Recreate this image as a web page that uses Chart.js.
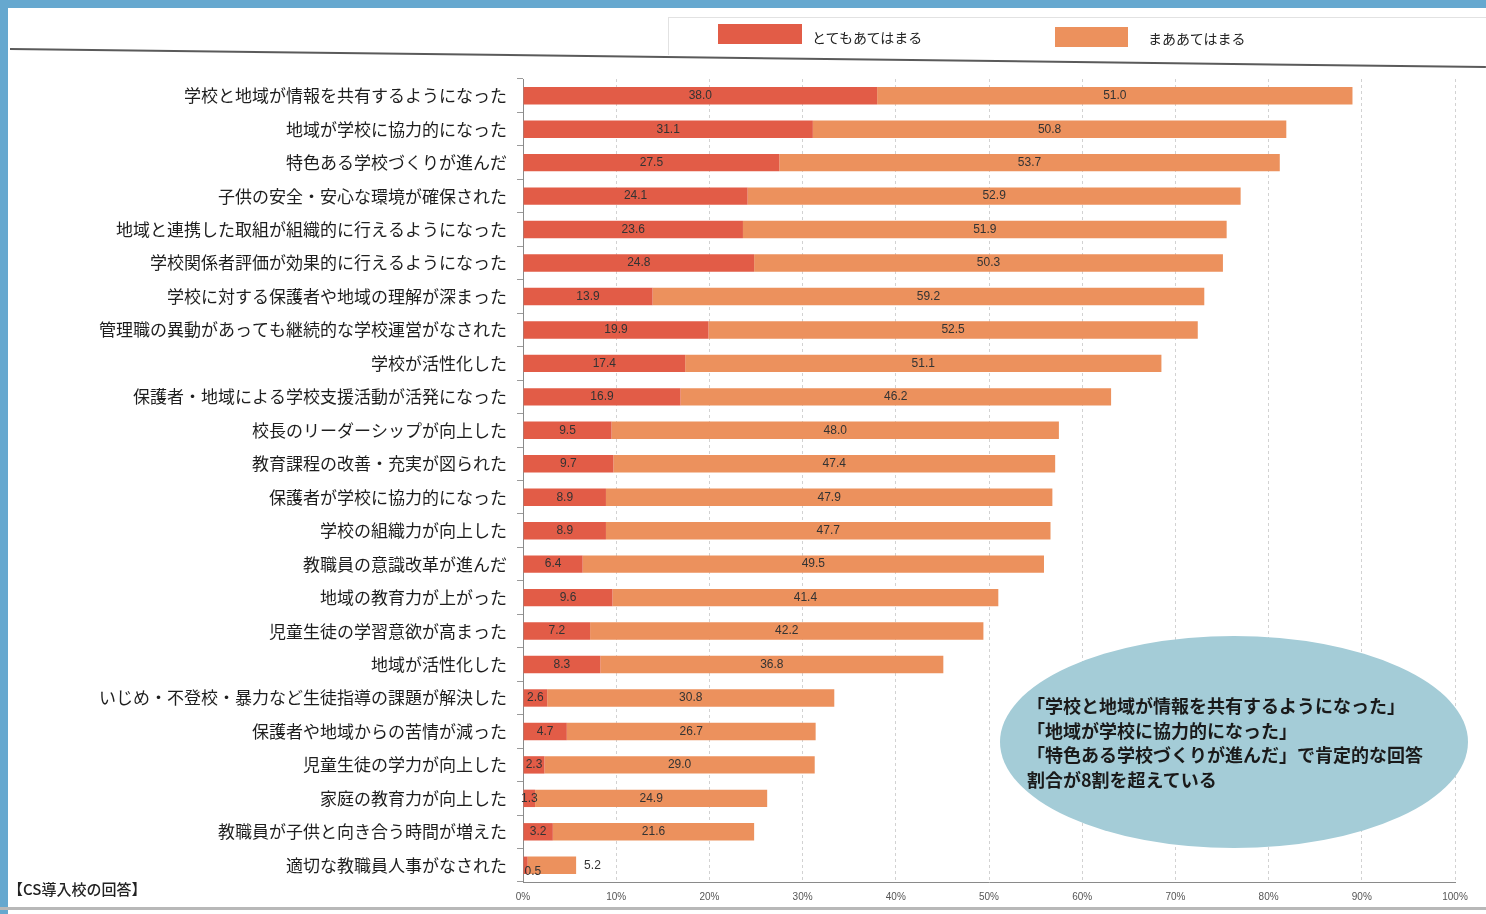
<!DOCTYPE html>
<html>
<head>
<meta charset="utf-8">
<script src="https://cdn.jsdelivr.net/npm/chart.js@4.4.1/dist/chart.umd.min.js"></script>
<style>
  html,body{margin:0;padding:0;}
  body{width:1486px;height:914px;overflow:hidden;background:#fff;position:relative;font-family:"Noto Sans CJK JP","Noto Sans",sans-serif;}
  #frameTop{position:absolute;left:0;top:0;width:1486px;height:8px;background:#66a8cf;}
  #frameLeft{position:absolute;left:0;top:0;width:8px;height:914px;background:#66a8cf;}
  #bottomLine{position:absolute;left:0;top:907px;width:1486px;height:3px;background:#b8b8b8;}
  #legendTop{position:absolute;left:668px;top:17px;width:818px;height:1px;background:#e2e2e2;}
  #legendLeft{position:absolute;left:668px;top:17px;width:1px;height:38px;background:#e2e2e2;}
  #legendBottom{position:absolute;left:10px;top:48px;width:1476px;height:2px;background:#5a5a5a;transform:rotate(0.7deg);transform-origin:0 0;}
  .lgbox{position:absolute;height:20px;}
  .lgtext{position:absolute;font-size:14px;color:#222;line-height:20px;white-space:nowrap;}
  #note{position:absolute;left:8px;top:878px;font-size:15px;color:#222;font-weight:500;line-height:22px;white-space:nowrap;}
  #ellipse{position:absolute;left:1000px;top:636px;width:468px;height:212px;border-radius:50%;background:#a4ccd7;}
  #ellipseText{position:absolute;left:1027px;top:693px;font-size:18px;font-weight:700;color:#1a1a1a;line-height:24.5px;white-space:nowrap;}
  canvas{position:absolute;left:0;top:0;}
</style>
</head>
<body>
<div id="frameTop"></div>
<div id="frameLeft"></div>
<div id="bottomLine"></div>
<div id="legendTop"></div>
<div id="legendLeft"></div>
<div id="legendBottom"></div>
<canvas id="c" width="1486" height="914"></canvas>
<div class="lgbox" id="lg0" style="left:718px;top:24px;width:84px;"></div>
<div class="lgtext" id="lt0" style="left:812px;top:27px;"></div>
<div class="lgbox" id="lg1" style="left:1055px;top:27px;width:73px;"></div>
<div class="lgtext" id="lt1" style="left:1148px;top:28px;"></div>
<div id="note">【CS導入校の回答】</div>
<div id="ellipse"></div>
<div id="ellipseText">「学校と地域が情報を共有するようになった」<br>「地域が学校に協力的になった」<br>「特色ある学校づくりが進んだ」で肯定的な回答<br>割合が8割を超えている</div>
<script>
const categories = [
  "学校と地域が情報を共有するようになった",
  "地域が学校に協力的になった",
  "特色ある学校づくりが進んだ",
  "子供の安全・安心な環境が確保された",
  "地域と連携した取組が組織的に行えるようになった",
  "学校関係者評価が効果的に行えるようになった",
  "学校に対する保護者や地域の理解が深まった",
  "管理職の異動があっても継続的な学校運営がなされた",
  "学校が活性化した",
  "保護者・地域による学校支援活動が活発になった",
  "校長のリーダーシップが向上した",
  "教育課程の改善・充実が図られた",
  "保護者が学校に協力的になった",
  "学校の組織力が向上した",
  "教職員の意識改革が進んだ",
  "地域の教育力が上がった",
  "児童生徒の学習意欲が高まった",
  "地域が活性化した",
  "いじめ・不登校・暴力など生徒指導の課題が解決した",
  "保護者や地域からの苦情が減った",
  "児童生徒の学力が向上した",
  "家庭の教育力が向上した",
  "教職員が子供と向き合う時間が増えた",
  "適切な教職員人事がなされた"
];
const seriesNames = ["とてもあてはまる", "まああてはまる"];
const totemo = [38.0,31.1,27.5,24.1,23.6,24.8,13.9,19.9,17.4,16.9,9.5,9.7,8.9,8.9,6.4,9.6,7.2,8.3,2.6,4.7,2.3,1.3,3.2,0.5];
const maa    = [51.0,50.8,53.7,52.9,51.9,50.3,59.2,52.5,51.1,46.2,48.0,47.4,47.9,47.7,49.5,41.4,42.2,36.8,30.8,26.7,29.0,24.9,21.6,5.2];
const xTicks = [0,10,20,30,40,50,60,70,80,90,100];

const colors = ["#e25c47", "#ec915d"];

document.getElementById('lg0').style.background = colors[0];
document.getElementById('lg1').style.background = colors[1];
document.getElementById('lt0').textContent = seriesNames[0];
document.getElementById('lt1').textContent = seriesNames[1];

const valueLabels = {
  id: 'valueLabels',
  afterDatasetsDraw(chart) {
    const ctx = chart.ctx;
    ctx.save();
    ctx.font = '12px "Liberation Sans", Arial, sans-serif';
    ctx.fillStyle = '#333';
    ctx.textBaseline = 'middle';
    const m0 = chart.getDatasetMeta(0), m1 = chart.getDatasetMeta(1);
    m0.data.forEach((b0, i) => {
      const b1 = m1.data[i];
      const t0 = chart.data.datasets[0].data[i].toFixed(1);
      const t1 = chart.data.datasets[1].data[i].toFixed(1);
      const w0 = Math.abs(b0.x - b0.base);
      if (w0 >= 8) {
        ctx.textAlign = 'center';
        ctx.fillText(t0, (b0.x + b0.base) / 2, b0.y);
        ctx.fillText(t1, (b1.x + b1.base) / 2, b1.y);
      } else {
        ctx.textAlign = 'left';
        ctx.fillText(t0, b0.base + 1, b0.y + 6);
        ctx.fillText(t1, b1.x + 8, b1.y);
      }
    });
    ctx.restore();
  }
};

new Chart(document.getElementById('c'), {
  type: 'bar',
  data: {
    labels: categories,
    datasets: [
      { label: seriesNames[0], data: totemo, backgroundColor: colors[0], categoryPercentage: 0.52, barPercentage: 1.0 },
      { label: seriesNames[1], data: maa, backgroundColor: colors[1], categoryPercentage: 0.52, barPercentage: 1.0 }
    ]
  },
  options: {
    indexAxis: 'y',
    responsive: false,
    animation: false,
    layout: { padding: { top: 79, right: 31, left: 0, bottom: 0 } },
    plugins: { legend: { display: false }, tooltip: { enabled: false } },
    scales: {
      x: {
        stacked: true,
        min: 0, max: 100,
        afterBuildTicks(scale) { scale.ticks = xTicks.map(v => ({ value: v })); },
        afterFit(scale) { scale.height = 32; },
        ticks: {
          callback: v => v + '%',
          font: { family: '"Liberation Sans", Arial, sans-serif', size: 10 },
          color: '#555',
          padding: 9,
          maxRotation: 0
        },
        grid: { display: true, color: '#d2d2d2', drawTicks: false },
        border: { display: true, color: '#8a8a8a', width: 1, dash: [3, 3] }
      },
      y: {
        stacked: true,
        afterFit(scale) { scale.width = 523; },
        ticks: {
          font: { family: '"Noto Sans CJK JP", "Noto Sans", sans-serif', size: 17 },
          color: '#1e1e1e',
          padding: 10,
          autoSkip: false
        },
        grid: { display: true, drawOnChartArea: false, drawTicks: true, tickLength: 6, color: '#9a9a9a' },
        border: { display: true, color: '#8a8a8a', width: 1 }
      }
    }
  },
  plugins: [valueLabels]
});
</script>
</body>
</html>
